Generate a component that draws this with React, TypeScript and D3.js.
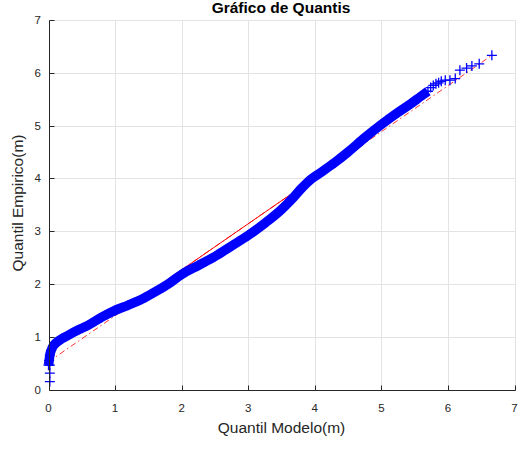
import React from 'react';
import * as d3 from 'd3';

// Q-Q plot: model quantiles (x) against empirical quantiles (y), in metres
const xTicks = [0, 1, 2, 3, 4, 5, 6, 7];
const yTicks = [0, 1, 2, 3, 4, 5, 6, 7];

// Dense part of the sample (thousands of overlapping markers)
const bandModel = [
  0.0, 0.01, 0.02, 0.04, 0.07, 0.12, 0.2, 0.3, 0.45, 0.6, 0.8, 1.0, 1.2, 1.4,
  1.6, 1.8, 2.0, 2.25, 2.5, 2.75, 3.0, 3.25, 3.5, 3.65, 3.8, 3.95, 4.1, 4.3,
  4.5, 4.75, 5.0, 5.25, 5.45, 5.6, 5.7,
];
const bandEmpirical = [
  0.46, 0.55, 0.65, 0.74, 0.82, 0.89, 0.96, 1.03, 1.13, 1.22, 1.37, 1.5, 1.6,
  1.71, 1.85, 2.0, 2.18, 2.35, 2.52, 2.72, 2.92, 3.15, 3.41, 3.6, 3.81, 3.99,
  4.12, 4.3, 4.5, 4.77, 5.02, 5.25, 5.42, 5.56, 5.65,
];

// Individually visible samples (lowest values and upper tail)
const sparseModel = [
  0.02, 0.02, 0.02, 5.74, 5.78, 5.82, 5.86, 5.9, 5.96, 6.03, 6.11, 6.18, 6.28,
  6.36, 6.47, 6.66,
];
const sparseEmpirical = [
  0.15, 0.31, 0.46, 5.72, 5.76, 5.79, 5.81, 5.84, 5.86, 5.86, 5.89, 6.05, 6.09,
  6.13, 6.17, 6.33,
];

// Reference line through the first and third quartiles
const quartileModel = [1.75, 3.7];
const quartileEmpirical = [2.05, 3.75];
const modelRange = [0, 6.66];

const W = 526;
const H = 450;
const FONT = '"Liberation Sans", Arial, Helvetica, sans-serif';
const TEXT = '#262626';

export default function App() {
  const x = d3.scaleLinear().domain([0, 7]).range([48.5, 514.5]);
  const y = d3.scaleLinear().domain([0, 7]).range([389.5, 20]);
  const px = (v: number) => Math.round(x(v)) + 0.5;
  const py = (v: number) => Math.round(y(v)) + 0.5;

  const slope =
    (quartileEmpirical[1] - quartileEmpirical[0]) /
    (quartileModel[1] - quartileModel[0]);
  const lineAt = (m: number) => quartileEmpirical[0] + slope * (m - quartileModel[0]);

  const line = d3
    .line<[number, number]>()
    .x((d) => x(d[0]))
    .y((d) => y(d[1]));
  const smooth = d3
    .line<[number, number]>()
    .x((d) => x(d[0]))
    .y((d) => y(d[1]))
    .curve(d3.curveMonotoneX);

  const bandPts: [number, number][] = bandModel.map((m, i) => [m, bandEmpirical[i]]);
  const sparsePts: [number, number][] = sparseModel.map((m, i) => [m, sparseEmpirical[i]]);
  const allPts = [...bandPts, ...sparsePts];

  const extended: [number, number][] = [
    [modelRange[0], lineAt(modelRange[0])],
    [modelRange[1], lineAt(modelRange[1])],
  ];
  const inner: [number, number][] = [
    [quartileModel[0], quartileEmpirical[0]],
    [quartileModel[1], quartileEmpirical[1]],
  ];

  const x0 = px(0);
  const y0 = py(0);

  return (
    <svg
      width={W}
      height={H}
      style={{ position: 'absolute', left: 0, top: 0, background: '#fff' }}
      fontFamily={FONT}
    >
      <rect x={0} y={0} width={W} height={H} fill="#fff" />
      {/* grid */}
      <g stroke="#e3e3e3" strokeWidth={1}>
        {xTicks.map((t) => (
          <line key={'gx' + t} x1={px(t)} x2={px(t)} y1={py(0)} y2={py(7)} />
        ))}
        {yTicks.map((t) => (
          <line key={'gy' + t} x1={px(0)} x2={px(7)} y1={py(t)} y2={py(t)} />
        ))}
      </g>

      {/* reference line: dash-dot over the data range, solid between quartiles */}
      <path
        d={line(extended) || ''}
        fill="none"
        stroke="#ff0000"
        strokeWidth={1}
        strokeDasharray="6 3 1.5 3"
        opacity={0.8}
      />
      <path d={line(inner) || ''} fill="none" stroke="#ff0000" strokeWidth={1} />

      {/* dense sample */}
      <path
        d={smooth(bandPts) || ''}
        fill="none"
        stroke="#0000ff"
        strokeWidth={9.5}
        strokeLinejoin="round"
      />
      {allPts.map((p, i) => (
        <path
          key={'m' + i}
          transform={`translate(${x(p[0])},${y(p[1])})`}
          d="M-5,0H5M0,-5V5"
          stroke="#0000ff"
          strokeWidth={1.3}
          fill="none"
        />
      ))}

      {/* axes */}
      <g stroke={TEXT} strokeWidth={1}>
        <line x1={x0} x2={px(7)} y1={y0} y2={y0} />
        <line x1={x0} x2={x0} y1={y0} y2={py(7)} />
        {xTicks.map((t) => (
          <line key={'tx' + t} x1={px(t)} x2={px(t)} y1={y0} y2={y0 - 5} />
        ))}
        {yTicks.map((t) => (
          <line key={'ty' + t} x1={x0} x2={x0 + 5} y1={py(t)} y2={py(t)} />
        ))}
      </g>
      <g fill={TEXT} fontSize={11.5}>
        {xTicks.map((t) => (
          <text key={'lx' + t} x={x(t)} y={411.5} textAnchor="middle">
            {t}
          </text>
        ))}
        {yTicks.map((t) => (
          <text key={'ly' + t} x={41} y={y(t) + 4} textAnchor="end">
            {t}
          </text>
        ))}
      </g>
      <text x={281.5} y={433} textAnchor="middle" fontSize={15.5} fill={TEXT}>
        Quantil Modelo(m)
      </text>
      <text
        transform={`translate(23,203) rotate(-90)`}
        textAnchor="middle"
        fontSize={15.5}
        fill={TEXT}
      >
        Quantil Empirico(m)
      </text>
      <text x={281} y={12.5} textAnchor="middle" fontSize={15.5} fontWeight="bold" fill="#000">
        Gráfico de Quantis
      </text>
    </svg>
  );
}
